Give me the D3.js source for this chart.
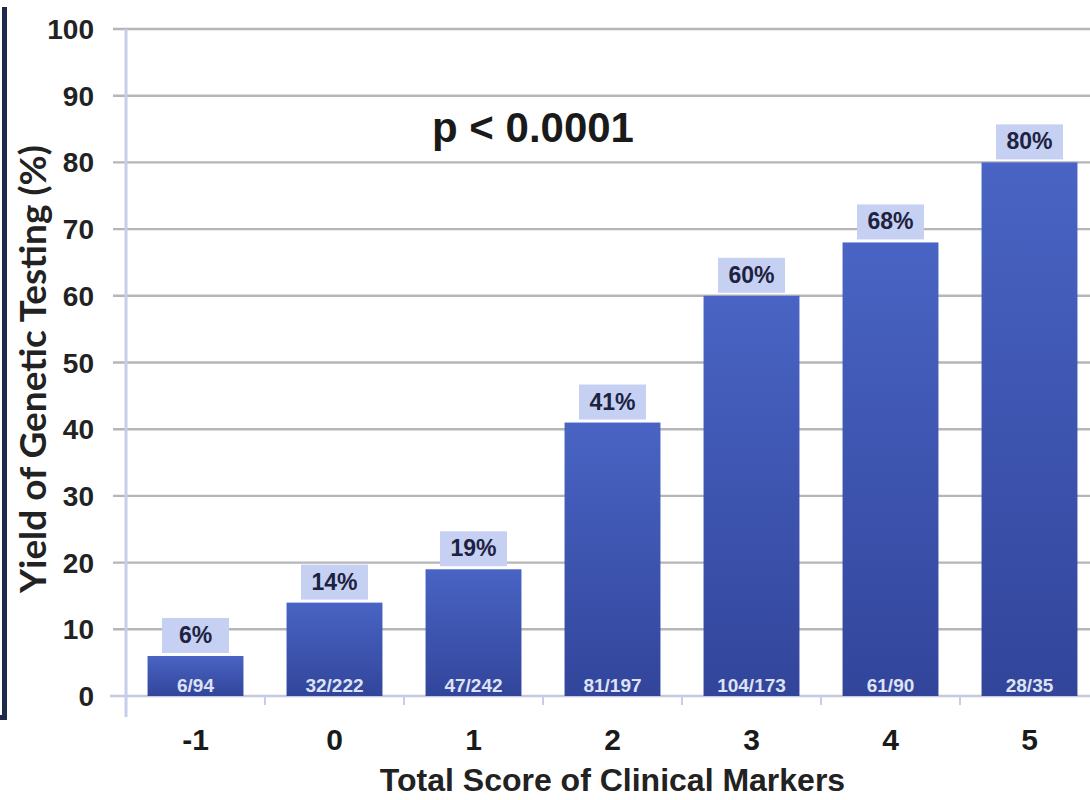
<!DOCTYPE html>
<html>
<head>
<meta charset="utf-8">
<script src="https://cdn.jsdelivr.net/npm/d3@7"></script>
<style>
  html, body { margin: 0; padding: 0; background: #ffffff; }
  svg { display: block; }
</style>
</head>
<body>
<svg id="chart" width="1090" height="800"></svg>
<script>
// Diagnostic yield by total clinical-marker score
const scores = ["-1", "0", "1", "2", "3", "4", "5"];
const yieldPct = [6, 14, 19, 41, 60, 68, 80];
const counts = ["6/94", "32/222", "47/242", "81/197", "104/173", "61/90", "28/35"];
const yTicks = [0, 10, 20, 30, 40, 50, 60, 70, 80, 90, 100];
const pValueText = "p < 0.0001";
const xTitle = "Total Score of Clinical Markers";
const yTitle = "Yield of Genetic Testing (%)";

const svg = d3.select("#chart");
const sans = "'Liberation Sans', Arial, sans-serif";

const x = d3.scaleBand()
  .domain(scores)
  .range([126, 1099])
  .paddingInner(0.31)
  .paddingOuter(0.155);

const y = d3.scaleLinear().domain([0, 100]).range([696, 29]);

// bar fill gradient
const defs = svg.append("defs");
const grad = defs.append("linearGradient")
  .attr("id", "barFill").attr("x1", 0).attr("y1", 0).attr("x2", 0).attr("y2", 1);
grad.append("stop").attr("offset", "0%").attr("stop-color", "#4964c4");
grad.append("stop").attr("offset", "100%").attr("stop-color", "#32459b");

// frame edge on the left
svg.append("path")
  .attr("d", "M4.5,7 V717.5 H0")
  .attr("fill", "none")
  .attr("stroke", "#1f2a4d")
  .attr("stroke-width", 5);

// horizontal gridlines with left tick stubs
svg.append("g")
  .selectAll("line")
  .data(yTicks)
  .join("line")
  .attr("x1", d => d === 0 ? 110 : 113)
  .attr("x2", 1090)
  .attr("y1", d => y(d))
  .attr("y2", d => y(d))
  .attr("stroke", d => d === 0 ? "#c4c9e0" : "#b5b5ba")
  .attr("stroke-width", 2.4);

// y-axis line
svg.append("line")
  .attr("x1", 126).attr("x2", 126)
  .attr("y1", y(100)).attr("y2", 717)
  .attr("stroke", "#c6cdeb")
  .attr("stroke-width", 3);

// x-axis ticks between categories
const boundaries = scores.slice(1).map(s => x(s) - x.step() * x.paddingInner() / 2);
svg.append("g")
  .selectAll("line")
  .data(boundaries)
  .join("line")
  .attr("x1", d => d).attr("x2", d => d)
  .attr("y1", y(0)).attr("y2", y(0) + 9)
  .attr("stroke", "#c6cdeb")
  .attr("stroke-width", 2);

// y tick labels
svg.append("g")
  .selectAll("text")
  .data(yTicks)
  .join("text")
  .attr("x", 94)
  .attr("y", d => y(d))
  .attr("dy", "0.36em")
  .attr("text-anchor", "end")
  .attr("font-family", sans)
  .attr("font-weight", "bold")
  .attr("font-size", 28)
  .attr("fill", "#222222")
  .text(d => d);

// bars
const bars = svg.append("g");
bars.selectAll("rect")
  .data(yieldPct)
  .join("rect")
  .attr("x", (d, i) => x(scores[i]))
  .attr("width", x.bandwidth())
  .attr("y", d => y(d))
  .attr("height", d => y(0) - y(d))
  .attr("fill", "url(#barFill)");

// value label boxes above bars
const boxW = 67, boxH = 35, boxGap = 3;
const labels = svg.append("g");
labels.selectAll("rect")
  .data(yieldPct)
  .join("rect")
  .attr("x", (d, i) => x(scores[i]) + x.bandwidth() / 2 - boxW / 2)
  .attr("y", d => y(d) - boxGap - boxH)
  .attr("width", boxW)
  .attr("height", boxH)
  .attr("fill", "#c6d0f3");
labels.selectAll("text")
  .data(yieldPct)
  .join("text")
  .attr("x", (d, i) => x(scores[i]) + x.bandwidth() / 2)
  .attr("y", d => y(d) - boxGap - 10)
  .attr("text-anchor", "middle")
  .attr("font-family", sans)
  .attr("font-weight", "bold")
  .attr("font-size", 23)
  .attr("fill", "#1c2240")
  .text(d => d + "%");

// count labels at the foot of each bar
svg.append("g")
  .selectAll("text")
  .data(counts)
  .join("text")
  .attr("x", (d, i) => x(scores[i]) + x.bandwidth() / 2)
  .attr("y", y(0) - 4)
  .attr("text-anchor", "middle")
  .attr("font-family", sans)
  .attr("font-weight", "bold")
  .attr("font-size", 19)
  .attr("fill", "#dde2f4")
  .text(d => d);

// x tick labels
svg.append("g")
  .selectAll("text")
  .data(scores)
  .join("text")
  .attr("x", d => x(d) + x.bandwidth() / 2)
  .attr("y", 750)
  .attr("text-anchor", "middle")
  .attr("font-family", sans)
  .attr("font-weight", "bold")
  .attr("font-size", 30)
  .attr("fill", "#1a1a1a")
  .text(d => d);

// axis titles
svg.append("text")
  .attr("x", (126 + 1099) / 2)
  .attr("y", 791)
  .attr("text-anchor", "middle")
  .attr("font-family", sans)
  .attr("font-weight", "bold")
  .attr("font-size", 32)
  .attr("fill", "#222222")
  .text(xTitle);

const yt = svg.append("text")
  .attr("transform", "translate(46,369) rotate(-90)")
  .attr("text-anchor", "middle")
  .attr("font-family", "Lato, 'Open Sans', sans-serif")
  .attr("font-weight", "bold")
  .attr("font-size", 32)
  .attr("fill", "#222222")
  .text(yTitle);
// size the title so it spans the same run as the axis
const ytLen = yt.node().getComputedTextLength();
yt.attr("font-size", 32 * 448 / ytLen);

// significance annotation
svg.append("text")
  .attr("x", 432)
  .attr("y", 142)
  .attr("font-family", sans)
  .attr("font-weight", "bold")
  .attr("font-size", 42)
  .attr("fill", "#1a1a1a")
  .text(pValueText);
</script>
</body>
</html>
